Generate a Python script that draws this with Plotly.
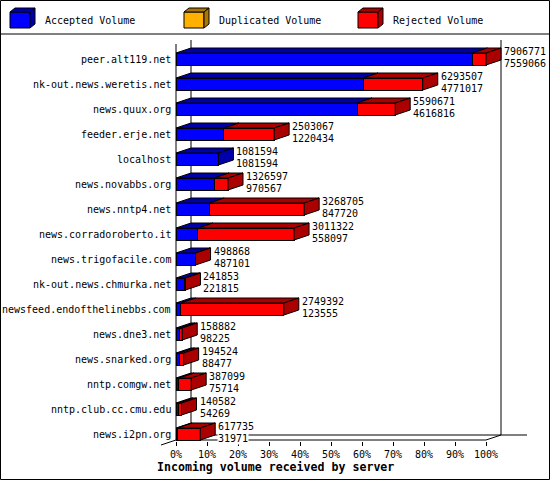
import plotly.graph_objects as go

# Servers, top to bottom as in the chart
servers = [
    "peer.alt119.net", "nk-out.news.weretis.net", "news.quux.org", "feeder.erje.net",
    "localhost", "news.novabbs.org", "news.nntp4.net", "news.corradoroberto.it",
    "news.trigofacile.com", "nk-out.news.chmurka.net", "newsfeed.endofthelinebbs.com",
    "news.dne3.net", "news.snarked.org", "nntp.comgw.net", "nntp.club.cc.cmu.edu",
    "news.i2pn.org",
]
total = [7906771, 6293507, 5590671, 2503067, 1081594, 1326597, 3268705, 3011322,
         498868, 241853, 2749392, 158882, 194524, 387099, 140582, 617735]
accepted = [7559066, 4771017, 4616816, 1220434, 1081594, 970567, 847720, 558097,
            487101, 221815, 123555, 98225, 88477, 75714, 54269, 31971]
duplicated = [0] * len(servers)
rejected = [t - a - d for t, a, d in zip(total, accepted, duplicated)]

pct_ticks = list(range(0, 101, 10))
pct_labels = [f"{v}%" for v in pct_ticks]

# geometry of the page (pixels)
W, H = 550, 480
L, R, T, B = 158, 528, 38, 441
X0PX, PXPCT = 176, 3.1
ROWPX, ROW0PX = 25, 434

DX = 15 / PXPCT
DY = 5 / ROWPX
HALF = 6 / ROWPX

MONO = "DejaVu Sans Mono"
colors = {
    "acc": ("#0000ff", "#0000aa"),
    "dup": ("#ffb000", "#aa7700"),
    "rej": ("#ff0000", "#aa0000"),
}


def px(p):
    return (p - L) / (R - L)


def py(p):
    return (B - p) / (B - T)


peak = max(total)
n = len(servers)
yv = [n - 1 - i for i in range(n)]


def pct(vals):
    return [v / peak * 100 if v else None for v in vals]


fig = go.Figure()

series = [("acc", accepted), ("dup", duplicated), ("rej", rejected)]
for key, vals in series:
    fig.add_trace(go.Bar(
        y=yv, x=pct(vals), orientation="h", width=2 * HALF,
        marker=dict(color=colors[key][0], line=dict(color="black", width=1)),
        hoverinfo="skip",
    ))

# 3D top and side faces
tops = {k: ([], []) for k in colors}
sides = {k: ([], []) for k in colors}
for i in range(n):
    y = yv[i]
    yt = y + HALF
    yb = y - HALF
    start = 0.0
    last = None
    for key, vals in series:
        w = vals[i] / peak * 100
        if w <= 0:
            continue
        e = start + w
        xs, ys = tops[key]
        xs += [start, e, e + DX, start + DX, start, None]
        ys += [yt, yt, yt + DY, yt + DY, yt, None]
        start = e
        last = key
    xs, ys = sides[last]
    xs += [start, start + DX, start + DX, start, start, None]
    ys += [yb, yb + DY, yt + DY, yt, yb, None]

for key in colors:
    for xs, ys in (tops[key], sides[key]):
        if xs:
            fig.add_trace(go.Scatter(
                x=xs, y=ys, mode="lines", fill="toself",
                fillcolor=colors[key][1], line=dict(color="black", width=1),
                hoverinfo="skip",
            ))

ann = []
for i in range(n):
    ann.append(dict(x=0, y=yv[i], xref="x", yref="y", xshift=-3, xanchor="right",
                    text=servers[i], showarrow=False, font=dict(family=MONO, size=10, color="black")))
    xe = total[i] / peak * 100 + DX
    ann.append(dict(x=xe, y=yv[i], xref="x", yref="y", xshift=2, yshift=8, xanchor="left",
                    text=str(total[i]), showarrow=False, bgcolor="white", borderpad=0,
                    font=dict(family=MONO, size=10, color="black")))
    ann.append(dict(x=xe, y=yv[i], xref="x", yref="y", xshift=2, yshift=-4, xanchor="left",
                    text=str(accepted[i]), showarrow=False, bgcolor="white", borderpad=0,
                    font=dict(family=MONO, size=10, color="black")))

ann.append(dict(x=0, y=py(467), xref="x", yref="paper", xshift=-21, xanchor="left", yanchor="middle",
                text="<b>Incoming volume received by server</b>", showarrow=False,
                font=dict(family=MONO, size=11.6, color="black")))

# frame of the 3D box
ytop_back = (ROW0PX - 40) / ROWPX
ytop_front = (ROW0PX - 44) / ROWPX
yfloor = -HALF
xmax = (R - 1 - X0PX) / PXPCT
line = dict(color="black", width=1)
shapes = [
    dict(type="line", xref="x", yref="y", x0=DX, x1=DX, y0=yfloor + DY, y1=ytop_back, line=line, layer="below"),
    dict(type="line", xref="x", yref="y", x0=100 + DX, x1=100 + DX, y0=yfloor + DY, y1=ytop_back, line=line, layer="below"),
    dict(type="line", xref="x", yref="y", x0=DX, x1=xmax, y0=yfloor + DY, y1=yfloor + DY, line=line, layer="below"),
    dict(type="line", xref="x", yref="y", x0=0, x1=0, y0=yfloor, y1=ytop_front, line=line, layer="below"),
    dict(type="line", xref="x", yref="y", x0=0, x1=100, y0=yfloor, y1=yfloor, line=line, layer="below"),
    dict(type="line", xref="x", yref="y", x0=100, x1=100 + DX, y0=yfloor, y1=yfloor + DY, line=line, layer="below"),
    dict(type="line", xref="x", yref="paper", x0=-DX, x1=0, y0=py(445), y1=py(440), line=line),
    # page border and legend separator
    dict(type="rect", xref="paper", yref="paper", x0=px(0.5), x1=px(549.5), y0=py(0.5), y1=py(479.5), line=line),
    dict(type="line", xref="paper", yref="paper", x0=px(0), x1=px(550), y0=py(34), y1=py(34), line=line),
]

# legend cubes
legend_items = [("acc", "Accepted Volume"), ("dup", "Duplicated Volume"), ("rej", "Rejected Volume")]


def path(pts):
    return "M" + " L".join(f"{px(a):.5f},{py(b):.5f}" for a, b in pts) + " Z"


for j, (key, label) in enumerate(legend_items):
    bx = 10 + 174 * j
    shapes.append(dict(type="path", xref="paper", yref="paper", fillcolor=colors[key][0], line=line,
                       path=path([(bx, 12), (bx + 20, 12), (bx + 20, 28), (bx, 28)])))
    shapes.append(dict(type="path", xref="paper", yref="paper", fillcolor=colors[key][1], line=line,
                       path=path([(bx, 12), (bx + 20, 12), (bx + 25, 8), (bx + 5, 8)])))
    shapes.append(dict(type="path", xref="paper", yref="paper", fillcolor=colors[key][1], line=line,
                       path=path([(bx + 20, 12), (bx + 25, 8), (bx + 25, 24), (bx + 20, 28)])))
    ann.append(dict(x=px(bx + 33), y=py(20), xref="paper", yref="paper", xanchor="left", yanchor="middle",
                    text=label, showarrow=False, font=dict(family=MONO, size=10, color="black")))

fig.update_layout(
    width=W, height=H,
    margin=dict(l=L, r=W - R, t=T, b=H - B, pad=0),
    barmode="stack",
    showlegend=False,
    plot_bgcolor="white",
    paper_bgcolor="white",
    xaxis=dict(range=[(L - X0PX) / PXPCT, (R - X0PX) / PXPCT], showgrid=False, zeroline=False,
               showline=False, tickmode="array", tickvals=pct_ticks, ticktext=pct_labels,
               ticks="outside", ticklen=4, tickcolor="black",
               tickfont=dict(family=MONO, size=10, color="black"), fixedrange=True),
    yaxis=dict(range=[(ROW0PX - B) / ROWPX, (ROW0PX - T) / ROWPX], showgrid=False, zeroline=False,
               showline=False, showticklabels=False, ticks="", fixedrange=True),
    annotations=ann,
    shapes=shapes,
)

# drop the default page margin so the chart sits at the window's corner
fig.write_html("out.html", config={"displayModeBar": False},
               post_script="document.body.style.margin='0';")
